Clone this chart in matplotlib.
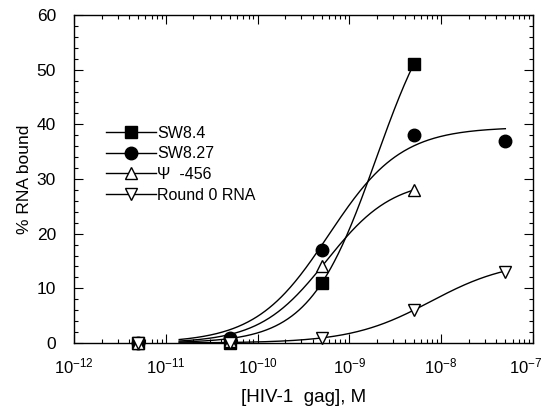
import numpy as np
import matplotlib
matplotlib.use("Agg")
import matplotlib.pyplot as plt
import matplotlib.transforms as mtransforms
from matplotlib.lines import Line2D
from matplotlib.ticker import MultipleLocator, FixedLocator

plt.rcParams['font.family'] = ['Liberation Sans', 'DejaVu Sans']
plt.rcParams['mathtext.fontset'] = 'custom'
plt.rcParams['mathtext.rm'] = 'Liberation Sans'
plt.rcParams['mathtext.it'] = 'Liberation Sans:italic'

# Data
conc = [5e-12, 5e-11, 5e-10, 5e-9, 5e-8]
sw84 = [0, 0, 11, 51]
sw827 = [0, 1, 17, 38, 37]
psi456 = [0, 0.3, 14, 28]
round0 = [0, 0, 1, 6, 13]

labels = ["SW8.4", "SW8.27", "\u03a8  -456", "Round 0 RNA"]
xticks = [1e-12, 1e-11, 1e-10, 1e-9, 1e-8, 1e-7]
xticklabels = ["$10^{-12}$", "$10^{-11}$", "$10^{-10}$", "$10^{-9}$", "$10^{-8}$", "$10^{-7}$"]

# Fitted binding curves (Bmax, Kd, Hill n, x-start, x-end)
fit_sw84 = (67.5, 1.96e-9, 1.2, 1.4e-11, 5e-9)
fit_sw827 = (39.5, 5.94e-10, 1.1, 1.4e-11, 5e-8)
fit_psi = (30.0, 5.6e-10, 1.2, 1.4e-11, 5e-9)
fit_r0 = (15.2, 7.7e-9, 1.0, 1.4e-11, 5e-8)

fig = plt.figure(figsize=(5.48, 4.17), dpi=100)
ax = fig.add_axes([0.135, 0.1775, 0.8376, 0.7865])

def hill(params):
    b, k, n, x0, x1 = params
    x = np.logspace(np.log10(x0), np.log10(x1), 400)
    return x, b * x**n / (k**n + x**n)

lw = 1.0
for p in (fit_sw84, fit_sw827, fit_psi, fit_r0):
    x, y = hill(p)
    ax.plot(x, y, color='black', lw=lw, zorder=2)

ms = 9
ax.plot(conc[:len(sw84)], sw84, ls='none', marker='s', ms=8.5, mfc='black', mec='black', zorder=3, clip_on=False)
ax.plot(conc[:len(sw827)], sw827, ls='none', marker='o', ms=ms, mfc='black', mec='black', zorder=4, clip_on=False)
ax.plot(conc[:len(psi456)], psi456, ls='none', marker='^', ms=ms, mfc='white', mec='black', mew=1.0, zorder=5, clip_on=False)
ax.plot(conc[:len(round0)], round0, ls='none', marker='v', ms=ms, mfc='white', mec='black', mew=1.0, zorder=6, clip_on=False)

ax.set_xscale('log')
ax.set_xlim(1e-12, 1e-7)
ax.set_ylim(0, 60)
ax.yaxis.set_major_locator(MultipleLocator(10))
ax.yaxis.set_minor_locator(MultipleLocator(2))
ax.set_xticks(xticks)
ax.set_xticklabels(xticklabels)
minor = [m * d for d in xticks[:-1] for m in range(2, 10)]
ax.xaxis.set_minor_locator(FixedLocator(minor))

ax.tick_params(which='both', direction='in', top=True, right=True, width=0.8)
ax.tick_params(which='major', length=6.5)
ax.tick_params(which='minor', length=3)
ax.tick_params(axis='y', which='major', pad=13, labelsize=12.5)
ax.tick_params(axis='x', which='major', pad=10, labelsize=12)
for s in ax.spines.values():
    s.set_linewidth(1.0)

# nudge the right-most tick label slightly inward so it stays within the figure
last = ax.get_xticklabels()[-1]
last.set_transform(last.get_transform() +
                   mtransforms.ScaledTranslation(-5 / 72, 0, fig.dpi_scale_trans))

ax.set_ylabel('% RNA bound', fontsize=12.5, labelpad=3)
ax.set_xlabel('[HIV-1  gag], M', fontsize=13.5, labelpad=9)

handles = [
    Line2D([], [], color='black', lw=lw, marker='s', ms=8.5, mfc='black', mec='black'),
    Line2D([], [], color='black', lw=lw, marker='o', ms=ms, mfc='black', mec='black'),
    Line2D([], [], color='black', lw=lw, marker='^', ms=ms, mfc='white', mec='black'),
    Line2D([], [], color='black', lw=lw, marker='v', ms=ms, mfc='white', mec='black'),
]
ax.legend(handles, labels, loc='upper left', bbox_to_anchor=(0.07, 0.662),
          frameon=False, fontsize=11.5, handlelength=3.1, handletextpad=0.1,
          labelspacing=0.35, borderaxespad=0, borderpad=0)

fig.savefig('out.png', dpi=100)
